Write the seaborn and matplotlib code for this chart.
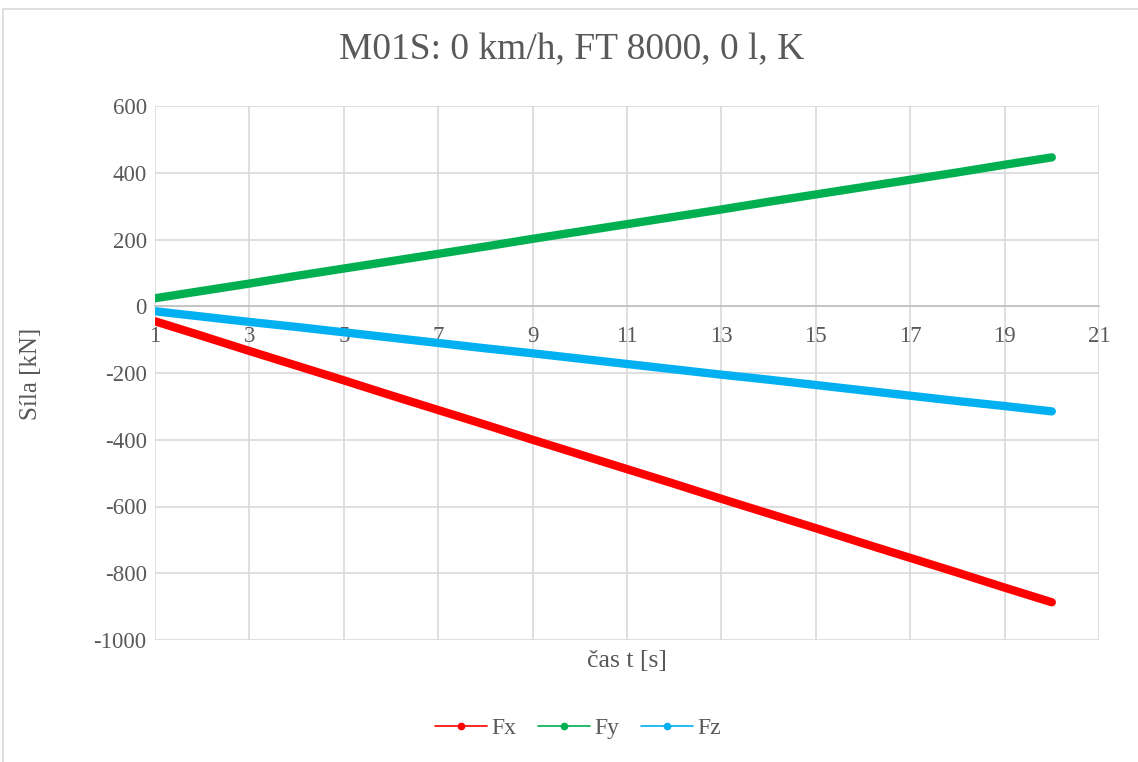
import numpy as np
import pandas as pd
import matplotlib
matplotlib.use("Agg")
import matplotlib.pyplot as plt
from matplotlib.lines import Line2D
from matplotlib.patches import Rectangle
import seaborn as sns

t = [1, 2, 3, 4, 5, 6, 7, 8, 9, 10, 11, 12, 13, 14, 15, 16, 17, 18, 19, 20]
fx = [-45, -89, -134, -178, -222, -267, -311, -355, -400, -444,
      -488, -532, -577, -621, -665, -710, -754, -798, -843, -887]
fy = [24, 46, 68, 91, 113, 135, 157, 179, 202, 224,
      246, 268, 290, 313, 335, 357, 379, 401, 424, 446]
fz = [-15, -31, -47, -62, -78, -94, -110, -126, -141, -157,
      -173, -189, -205, -220, -236, -252, -268, -284, -299, -315]
series = ["Fx", "Fy", "Fz"]
colors = ["#FF0000", "#00B050", "#00B0F0"]
x_ticks = [1, 3, 5, 7, 9, 11, 13, 15, 17, 19, 21]
y_ticks = [600, 400, 200, 0, -200, -400, -600, -800, -1000]

df = pd.DataFrame({
    "t": t * 3,
    "F": fx + fy + fz,
    "s": ["Fx"] * len(t) + ["Fy"] * len(t) + ["Fz"] * len(t),
})

sns.set_theme(style="white")
plt.rcParams["font.family"] = ["Liberation Serif", "DejaVu Serif"]
gray = "#595959"

fig = plt.figure(figsize=(11.38, 7.62), dpi=100)
fig.patches.append(Rectangle((3 / 1138, -0.01), 1.02, 1 - 9 / 762 + 0.01,
                             transform=fig.transFigure, fill=False,
                             edgecolor="#d9d9d9", linewidth=1.2))
ax = fig.add_axes([155 / 1138, 1 - 640 / 762, (1099 - 155) / 1138, (640 - 106) / 762])

sns.lineplot(data=df, x="t", y="F", hue="s", palette=dict(zip(series, colors)),
             linewidth=6, solid_capstyle="round", legend=False, ax=ax)

ax.set_xlim(1, 21)
ax.set_ylim(-1000, 600)
ax.set_xticks(x_ticks)
ax.set_yticks(y_ticks)
ax.set_xticklabels([str(v) for v in x_ticks])
ax.set_yticklabels([str(v) for v in y_ticks])
ax.grid(True, color="#d9d9d9", linewidth=1.2)
ax.set_axisbelow(True)
for side in ["top", "right", "left"]:
    ax.spines[side].set_visible(False)
ax.spines["bottom"].set_position(("data", 0))
ax.spines["bottom"].set_color("#bfbfbf")
ax.spines["bottom"].set_linewidth(1.2)
ax.tick_params(axis="both", length=0, labelsize=16.5, labelcolor=gray)
ax.tick_params(axis="x", pad=14)
ax.tick_params(axis="y", pad=6)

ax.set_xlabel("")
ax.set_ylabel("")
fig.text(627 / 1138, 1 - 661 / 762, "čas t [s]", ha="center", va="center",
         fontsize=18.5, color=gray)
fig.text(31 / 1138, 1 - 374 / 762, "Síla [kN]", ha="center", va="center",
         rotation=90, fontsize=18, color=gray)
fig.text(572 / 1138, 1 - 50 / 762, "M01S: 0 km/h, FT 8000, 0 l, K",
         ha="center", va="center", fontsize=27, color=gray)

handles = [Line2D([0], [0], color=c, linewidth=1.2, marker="o", markersize=4.5)
           for c in colors]
leg = fig.legend(handles, series, loc="center", bbox_to_anchor=(578 / 1138, 1 - 728 / 762),
                 ncol=3, frameon=False, fontsize=17, handlelength=2.2,
                 columnspacing=0.9, handletextpad=0.21)
for txt in leg.get_texts():
    txt.set_color(gray)

fig.savefig("out.png", dpi=100)
